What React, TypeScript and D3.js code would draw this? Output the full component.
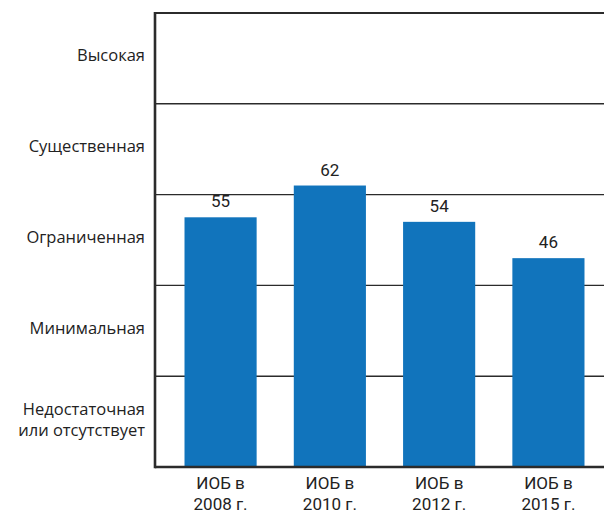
import React, { useEffect, useRef } from "react";
import * as d3 from "d3";

/* DATA */
const categories = ["ИОБ в 2008 г.", "ИОБ в 2010 г.", "ИОБ в 2012 г.", "ИОБ в 2015 г."];
const values = [55, 62, 54, 46];
const levelLabels = [
  ["Недостаточная", "или отсутствует"],
  ["Минимальная"],
  ["Ограниченная"],
  ["Существенная"],
  ["Высокая"],
];
const levelTicks = [0, 20, 40, 60, 80, 100];

function App() {
  const chartRef = useRef(null);

  useEffect(() => {
    const svg = d3.select(chartRef.current);
    svg.selectAll("*").remove();

    const left = 155;
    const top = 13;
    const bottom = 467;
    const right = 604;

    // Scales
    const x = d3
      .scaleBand()
      .domain(categories)
      .range([left, 614])
      .paddingInner(0.34)
      .paddingOuter(0.27);
    const y = d3.scaleLinear().domain([0, 100]).range([bottom, top]);

    // Gridlines between levels
    svg
      .append("g")
      .selectAll("line")
      .data(levelTicks.slice(1, 5))
      .enter()
      .append("line")
      .attr("x1", left)
      .attr("x2", right)
      .attr("y1", (d) => y(d))
      .attr("y2", (d) => y(d))
      .attr("stroke", "#2b2b2b")
      .attr("stroke-width", 1.4);

    // Top border
    svg
      .append("line")
      .attr("x1", left)
      .attr("x2", right)
      .attr("y1", y(100))
      .attr("y2", y(100))
      .attr("stroke", "#2b2b2b")
      .attr("stroke-width", 2);

    // Bars
    svg
      .append("g")
      .selectAll("rect")
      .data(values)
      .enter()
      .append("rect")
      .attr("x", (d, i) => x(categories[i]) as number)
      .attr("y", (d) => y(d))
      .attr("width", x.bandwidth())
      .attr("height", (d) => bottom - y(d))
      .attr("fill", "#1174bc");

    // Value labels
    svg
      .append("g")
      .selectAll("text")
      .data(values)
      .enter()
      .append("text")
      .attr("x", (d, i) => (x(categories[i]) as number) + x.bandwidth() / 2)
      .attr("y", (d) => y(d) - 10)
      .attr("text-anchor", "middle")
      .attr("font-family", "'Roboto', sans-serif")
      .attr("font-size", 17)
      .attr("fill", "#222")
      .text((d) => d);

    // Axes lines
    svg
      .append("line")
      .attr("x1", left)
      .attr("x2", left)
      .attr("y1", top - 1)
      .attr("y2", bottom + 1.3)
      .attr("stroke", "#2b2b2b")
      .attr("stroke-width", 2.6);
    svg
      .append("line")
      .attr("x1", left)
      .attr("x2", right)
      .attr("y1", bottom)
      .attr("y2", bottom)
      .attr("stroke", "#2b2b2b")
      .attr("stroke-width", 2.6);

    // Level labels (left)
    const lev = svg
      .append("g")
      .selectAll("text")
      .data(levelLabels)
      .enter()
      .append("text")
      .attr("text-anchor", "end")
      .attr("font-family", "'Open Sans', sans-serif")
      .attr("font-size", 16.5)
      .attr("fill", "#222")
      .attr("transform", (d, i) => {
        const mid = (y(levelTicks[i]) + y(levelTicks[i + 1])) / 2;
        return `translate(145, ${mid - 3 - (d.length - 1) * 9})`;
      });
    lev
      .selectAll("tspan")
      .data((d) => d)
      .enter()
      .append("tspan")
      .attr("x", 0)
      .attr("dy", (d, i) => (i === 0 ? "0.35em" : "21px"))
      .text((d) => d);

    // Category labels (bottom)
    const cat = svg
      .append("g")
      .selectAll("text")
      .data(categories)
      .enter()
      .append("text")
      .attr("text-anchor", "middle")
      .attr("font-family", "'Roboto', sans-serif")
      .attr("font-size", 17)
      .attr("fill", "#222")
      .attr("transform", (d) => `translate(${(x(d) as number) + x.bandwidth() / 2}, 489)`);
    cat
      .selectAll("tspan")
      .data((d) => {
        const parts = d.split(" ");
        return [parts.slice(0, 2).join(" "), parts.slice(2).join(" ")];
      })
      .enter()
      .append("tspan")
      .attr("x", 0)
      .attr("dy", (d, i) => (i === 0 ? 0 : 20.5))
      .text((d) => d);
  }, []);

  return (
    <div style={{ position: "absolute", left: 0, top: 0 }}>
      <svg ref={chartRef} width={604} height={513} style={{ display: "block", background: "#fff" }} />
    </div>
  );
}

export default App;
